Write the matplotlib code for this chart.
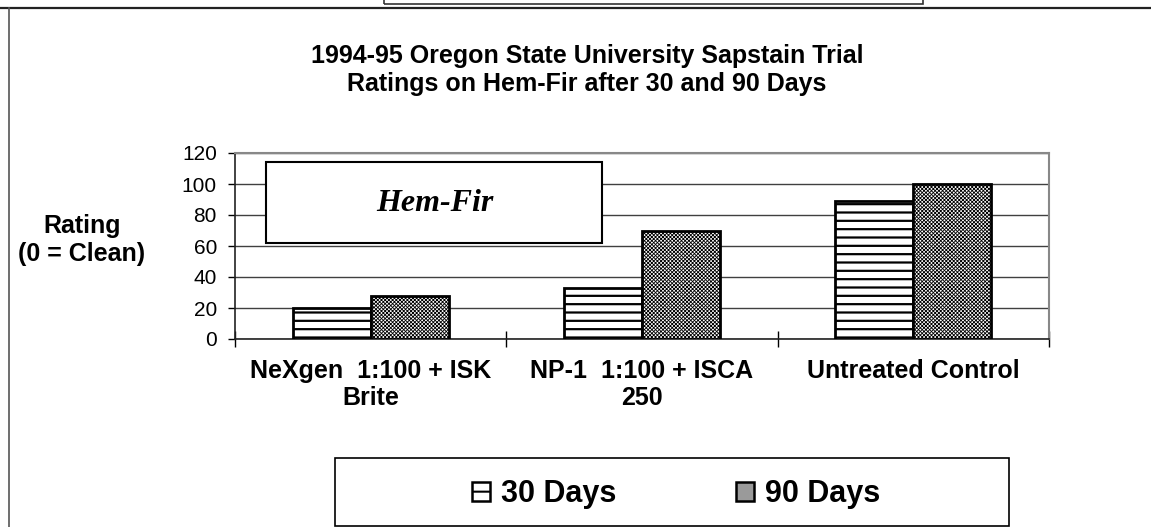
import numpy as np
import matplotlib
matplotlib.use("Agg")
import matplotlib.pyplot as plt
import matplotlib.transforms as mtrans
from matplotlib.patches import Rectangle, Patch
from matplotlib.lines import Line2D

# chart data
categories = ["NeXgen  1:100 + ISK\nBrite", "NP-1  1:100 + ISCA\n250", "Untreated Control"]
days_30 = [20, 33, 89]
days_90 = [28, 70, 100]
series_names = ["30 Days", "90 Days"]
y_ticks = [0, 20, 40, 60, 80, 100, 120]

plt.rcParams['font.family'] = ['Liberation Sans', 'DejaVu Sans']

W, H = 1151, 527
fig = plt.figure(figsize=(W / 100, H / 100), dpi=100)
ax = fig.add_axes([235 / W, 1 - 339 / H, 814 / W, 186 / H])

x = np.arange(len(categories))
w = 0.287
b1 = ax.bar(x - w / 2, days_30, w, facecolor='white', edgecolor='black',
            hatch='--', linewidth=2, zorder=3)
for p in b1:
    p._hatch_linewidth = 1.6
b2 = ax.bar(x + w / 2, days_90, w, facecolor='white', edgecolor='black',
            hatch='xxxxxxxxx', linewidth=2, zorder=3)
for p in b2:
    p._hatch_linewidth = 0.6

ax.set_xlim(-0.5, 2.5)
ax.set_ylim(0, 120)
ax.set_yticks(y_ticks)
ax.set_yticklabels([str(v) for v in y_ticks], fontsize=15)
ax.tick_params(axis='y', direction='out', length=5, width=1, pad=8)
ax.set_xticks([-0.5, 0.5, 1.5, 2.5])
ax.set_xticklabels([])
ax.tick_params(axis='x', direction='inout', length=11, width=1)
for i, c in enumerate(categories):
    ax.text(i, -13, c, ha='center', va='top', fontsize=18, fontweight='bold',
            linespacing=1.15)

ax.yaxis.grid(True, color='#404040', linewidth=1, zorder=0)
ax.set_axisbelow(True)
for s in ['top', 'right']:
    ax.spines[s].set_color('#888888')
    ax.spines[s].set_linewidth(1.5)
for s in ['left', 'bottom']:
    ax.spines[s].set_color('#222222')
    ax.spines[s].set_linewidth(1.2)

# label box inside the plot
blend = mtrans.blended_transform_factory(ax.transAxes, ax.transData)
ax.add_patch(Rectangle((0.038, 61.9), 0.413, 52.3, transform=blend,
                       facecolor='white', edgecolor='black', linewidth=1.5, zorder=4))
ax.text(0.245, 87.7, "Hem-Fir", transform=blend, ha='center', va='center',
        fontsize=23, fontweight='bold', style='italic',
        family='Liberation Serif', zorder=5)

fig.text(587 / W, 1 - 70 / H, "1994-95 Oregon State University Sapstain Trial\nRatings on Hem-Fir after 30 and 90 Days",
         ha='center', va='center', fontsize=18, fontweight='bold', linespacing=1.2)
fig.text(82 / W, 1 - 240 / H, "Rating\n(0 = Clean)", ha='center', va='center',
         fontsize=18, fontweight='bold', linespacing=1.2)

# page frame lines
fig.add_artist(Line2D([0, 1], [1 - 8 / H, 1 - 8 / H], color='#222222', linewidth=1.6))
fig.add_artist(Line2D([9 / W, 9 / W], [0, 1 - 8 / H], color='#555555', linewidth=1.2))
fig.add_artist(Rectangle((384 / W, 1 - 4 / H), 539 / W, 10 / H, facecolor='none',
                         edgecolor='#333333', linewidth=1.2, transform=fig.transFigure))

# legend (smaller swatches need lighter patterns)
fig.add_artist(Rectangle((335 / W, 1 - 526 / H), 674 / W, 68 / H, facecolor='white',
                         edgecolor='black', linewidth=1.2, transform=fig.transFigure))
h30 = Patch(facecolor='white', edgecolor='black', hatch='-', linewidth=1.8)
h90 = Patch(facecolor='#9a9a9a', edgecolor='black', linewidth=1.8)
leg = fig.legend([h30, h90], series_names, loc='center', ncol=2,
                 bbox_to_anchor=(676 / W, 1 - 494 / H), frameon=False,
                 prop={'size': 22, 'weight': 'bold'}, handlelength=0.6, handleheight=0.6,
                 handletextpad=0.35, columnspacing=3.9, borderpad=0.2)
for hp in leg.legend_handles:
    hp._hatch_linewidth = 1.5

fig.savefig("out.png", dpi=100)
